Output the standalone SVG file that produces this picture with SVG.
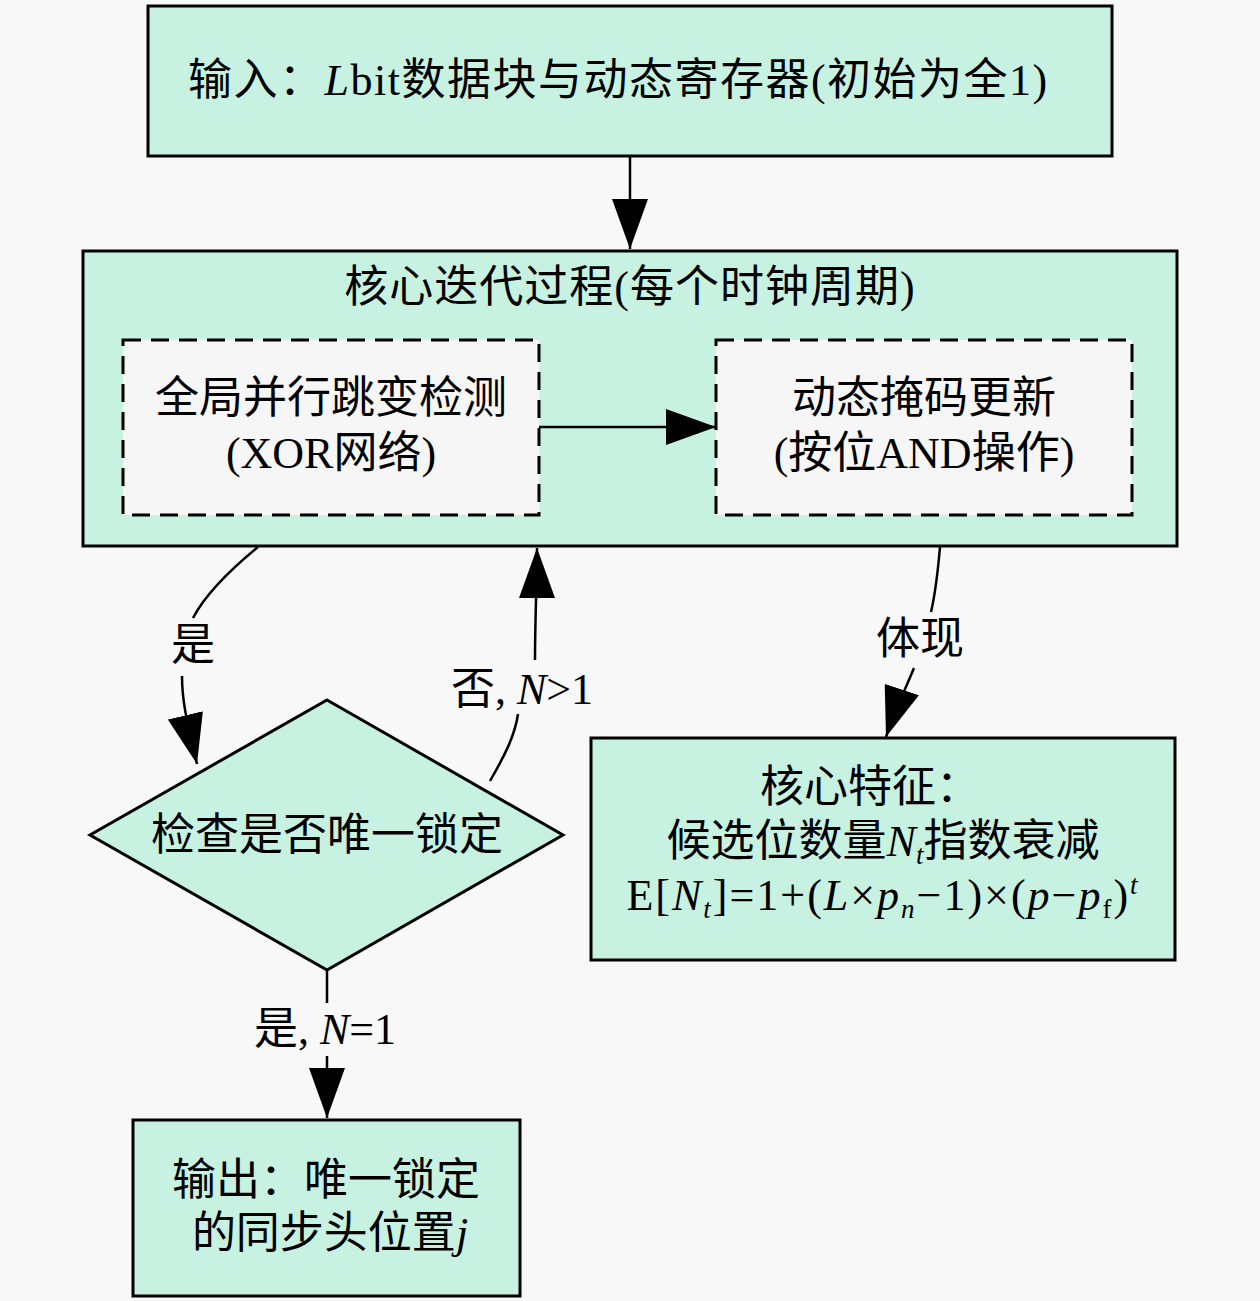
<svg xmlns="http://www.w3.org/2000/svg" width="1260" height="1301" viewBox="0 0 1260 1301">
<defs>
<style>
.box{fill:#c7f1e1;stroke:#000;stroke-width:3}
.dash{fill:#f6f6f6;stroke:#000;stroke-width:3;stroke-dasharray:18,10}
.t{font-family:"Liberation Serif","Noto Sans CJK SC",serif;font-size:44px;fill:#000}
.m{font-style:italic}
.e{fill:none;stroke:#000;stroke-width:2.5}
</style>
<marker id="ah" viewBox="0 0 50 36" refX="50" refY="18" markerWidth="50" markerHeight="36" markerUnits="userSpaceOnUse" orient="auto">
<path d="M0,0 L50,18 L0,36 z" fill="#000"/>
</marker>
</defs>
<rect width="1260" height="1301" fill="#f8f8f8"/>

<g id="input">
<rect class="box" x="148" y="6" width="964" height="150"/>
<text class="t" x="188" y="95" letter-spacing="1.5">输入：<tspan class="m">L</tspan>bit数据块与动态寄存器(初始为全1)</text>
</g>

<g id="core">
<rect class="box" x="83" y="251" width="1094" height="295"/>
<text class="t" x="630" y="302" text-anchor="middle" letter-spacing="1">核心迭代过程(每个时钟周期)</text>
</g>

<g id="xor">
<rect class="dash" x="123" y="340" width="416" height="175"/>
<text class="t" x="331" y="413" text-anchor="middle">全局并行跳变检测</text>
<text class="t" x="331" y="468" text-anchor="middle">(XOR网络)</text>
</g>

<g id="mask">
<rect class="dash" x="716" y="340" width="416" height="175"/>
<text class="t" x="924" y="413" text-anchor="middle">动态掩码更新</text>
<text class="t" x="924" y="468" text-anchor="middle">(按位AND操作)</text>
</g>

<g id="check">
<polygon class="box" points="327,700 563,835 327,970 90,835"/>
<text class="t" x="327" y="850" text-anchor="middle">检查是否唯一锁定</text>
</g>

<g id="feature">
<rect class="box" x="591" y="738" width="584" height="222"/>
<text class="t" x="870" y="802" text-anchor="middle">核心特征：</text>
<text class="t" x="883" y="856" text-anchor="middle">候选位数量<tspan class="m">N</tspan><tspan class="m" font-size="27" dy="8">t</tspan><tspan dy="-8">指数衰减</tspan></text>
<text class="t" x="883" y="910" text-anchor="middle" font-size="46" letter-spacing="2">E[<tspan class="m">N</tspan><tspan class="m" font-size="27" dy="8">t</tspan><tspan dy="-8">]=1+(</tspan><tspan class="m">L</tspan>×<tspan class="m">p</tspan><tspan class="m" font-size="27" dy="8">n</tspan><tspan dy="-8">−1)×(</tspan><tspan class="m">p</tspan>−<tspan class="m">p</tspan><tspan font-size="27" dy="8">f</tspan><tspan dy="-8">)</tspan><tspan class="m" font-size="27" dy="-16">t</tspan></text>
</g>

<g id="output">
<rect class="box" x="133" y="1120" width="387" height="176"/>
<text class="t" x="326" y="1195" text-anchor="middle">输出：唯一锁定</text>
<text class="t" x="330" y="1248" text-anchor="middle">的同步头位置<tspan class="m">j</tspan></text>
</g>

<g id="connectors">
<path class="e" d="M630,156 L630,249" marker-end="url(#ah)"/>
<path class="e" d="M539,427 L716,427" marker-end="url(#ah)"/>
<path class="e" d="M258,547 C230,570 205,595 193,618"/>
<path class="e" d="M182,676 C182,700 186,718 197,764" marker-end="url(#ah)"/>
<path class="e" d="M490,781 C505,755 515,735 518,714"/>
<path class="e" d="M535,660 C535,620 537,580 537,548" marker-end="url(#ah)"/>
<path class="e" d="M940,547 C938,570 935,595 931,612"/>
<path class="e" d="M914,668 C905,690 895,710 886,737" marker-end="url(#ah)"/>
<path class="e" d="M327,970 L327,1003"/>
<path class="e" d="M327,1056 L327,1118" marker-end="url(#ah)"/>
<text class="t" x="193" y="660" text-anchor="middle">是</text>
<text class="t" x="522" y="704" text-anchor="middle">否, <tspan class="m">N</tspan>&gt;1</text>
<text class="t" x="920" y="654" text-anchor="middle">体现</text>
<text class="t" x="325" y="1044" text-anchor="middle">是, <tspan class="m">N</tspan>=1</text>
</g>
</svg>
